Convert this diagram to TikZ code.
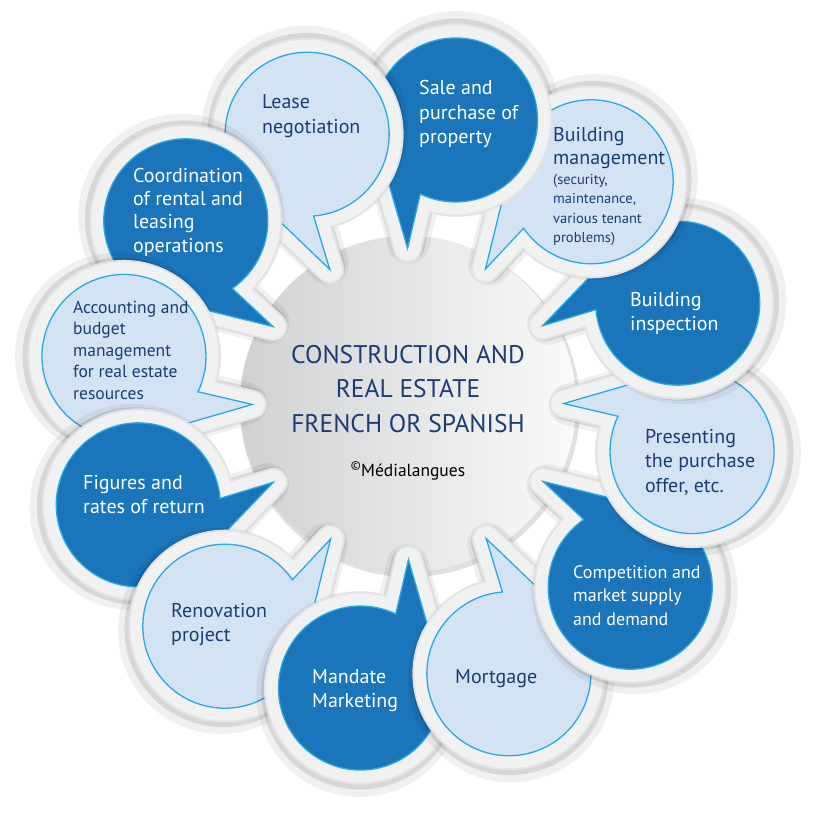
\documentclass[tikz,border=0pt]{standalone}
\usepackage{fontspec}
\setmainfont{PT Sans}
\definecolor{dk}{HTML}{1B75BB}
\definecolor{lt}{HTML}{D4E3F3}
\definecolor{cy}{HTML}{29A9E1}
\definecolor{nv}{HTML}{1C3D70}
\definecolor{ringout}{HTML}{E2E3E5}
\definecolor{ringin}{HTML}{F1F1F2}
\definecolor{ccl}{HTML}{D0D1D3}
\definecolor{ccr}{HTML}{FAFAFA}
% bubble outline: centre at origin of current scope, phi = position angle
\newcommand\bpath[1]{(#1+241:82) arc[start angle=#1+241, end angle=#1+556, radius=82] -- (#1+191:137) -- cycle}
\newcommand\bubblebody[2]{%
  \begin{scope}[shift={(408,404)}, shift={(#1:288)}]
    \path[fill=ringout, draw=ringout, line width=29, line join=round] \bpath{#1};
    \path[fill=ringin, draw=ringin, line width=25, line join=round] \bpath{#1};
    \path[fill=#2] \bpath{#1};
    \draw[cy, line width=1.3] \bpath{#1};
  \end{scope}}
\newcommand\bubble[2]{%
  \begin{scope}[shift={(408,404)}, shift={(#1:288)}]
    \begin{scope}[transparency group, opacity=0.06, shift={(#1:6)}]
      \path[fill=black, draw=black, line width=42, line join=round] \bpath{#1};
    \end{scope}
    \begin{scope}[transparency group, opacity=0.10, shift={(#1:3)}]
      \path[fill=black, draw=black, line width=33, line join=round] \bpath{#1};
    \end{scope}
  \end{scope}
  \bubblebody{#1}{#2}}
\tikzset{
  txt/.style={anchor=base west, align=left, inner sep=0pt, font=\fontsize{20}{24.5}\selectfont},
  onlt/.style={txt, text=nv},
  ondk/.style={txt, text=white},
}
\begin{document}
\begin{tikzpicture}[x=1pt, y=-1pt]
\fill[white] (0,0) rectangle (819,813);
\useasboundingbox (0,0) rectangle (819,813);
% central disc
\begin{scope}[transparency group, opacity=0.12]
  \fill[black] (410,407) circle[radius=170];
\end{scope}
\shade[left color=ccl, right color=ccr] (408,404) circle[radius=168];
% bubbles, bottom to top (the last ones cover the earlier ones)
\bubble{279.5}{dk}% sale
\bubble{249.5}{lt}% lease
\bubble{219.5}{dk}% coordination
\bubble{189.5}{lt}% accounting
\bubble{159.5}{dk}% figures
\bubble{129.5}{lt}% renovation
\bubble{99.5}{dk}% mandate
\bubble{69.5}{lt}% mortgage
\bubble{39.5}{dk}% competition
\bubble{9.5}{lt}% presenting
\bubble{339.5}{dk}% inspection
\bubble{309.5}{lt}% management
\begin{scope}
  \clip (470,0) rectangle (819,300);
  \bubblebody{279.5}{dk}% sale again, over management
\end{scope}
% texts (anchored at the baseline of their last line)
\node[onlt] (lease) at (262,133.5) {Lease\\negotiation};
\node[ondk] (sale) at (419,144) {Sale and\\purchase of\\property};
\node[onlt, font=\fontsize{20}{23}\selectfont] (mgmt) at (553,165) {Building\\management};
\node[onlt, font=\fontsize{14.5}{19.5}\selectfont] (mgmtsmall) at (553,242.5) {(security,\\maintenance,\\various tenant\\problems)};
\node[ondk] (insp) at (630,330.5) {Building\\inspection};
\node[onlt] (pres) at (645,492) {Presenting\\the purchase\\offer, etc.};
\node[ondk, font=\fontsize{18}{23.5}\selectfont] (comp) at (573,625) {Competition and\\market supply\\and demand};
\node[onlt] (mort) at (455,683) {Mortgage};
\node[ondk] (mand) at (312,707.5) {Mandate\\Marketing};
\node[onlt] (reno) at (171,641.5) {Renovation\\project};
\node[ondk] (fig) at (83,513.5) {Figures and\\rates of return};
\node[onlt, font=\fontsize{17.5}{21.5}\selectfont] (acc) at (73,399) {Accounting and\\budget\\management\\for real estate\\resources};
\node[ondk, font=\fontsize{20}{23.3}\selectfont] (coord) at (133,252) {Coordination\\of rental and\\leasing\\operations};
\node[anchor=base, align=center, inner sep=0pt, text=nv, font=\fontsize{25.5}{34.5}\selectfont] (title) at (408,432) {CONSTRUCTION AND\\REAL ESTATE\\FRENCH OR SPANISH};
\node[anchor=base, inner sep=0pt, font=\fontsize{17.5}{20}\selectfont] (copy) at (408,476) {\textsuperscript{©}Médialangues};
\end{tikzpicture}
\end{document}
